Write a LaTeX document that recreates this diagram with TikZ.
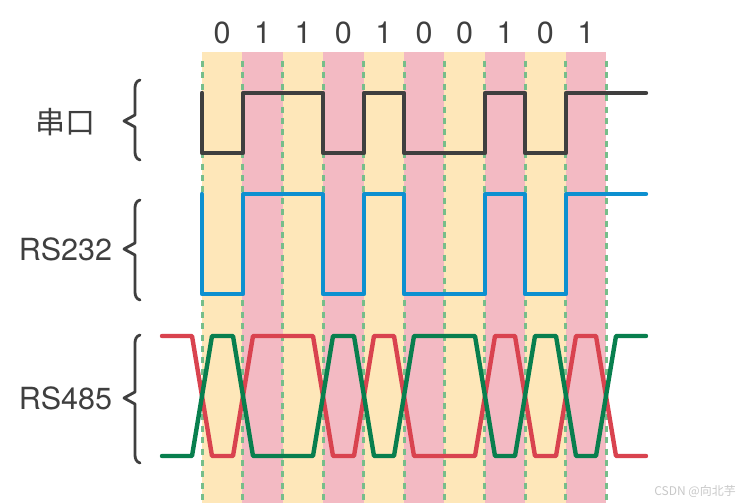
\documentclass[tikz,border=0pt]{standalone}
\usepackage{fontspec}
\setmainfont{TeX Gyre Heros}
\newfontfamily\cjk{Noto Sans CJK SC}
\definecolor{stripeY}{HTML}{FEE7B9}
\definecolor{stripeP}{HTML}{F3BAC3}
\definecolor{dashG}{HTML}{76BE8A}
\definecolor{txt}{HTML}{3F3F3F}
\definecolor{sig}{HTML}{3F3F3F}
\definecolor{sigB}{HTML}{0D90D0}
\definecolor{sigR}{HTML}{D9434F}
\definecolor{sigG}{HTML}{087F4E}
\definecolor{wm}{HTML}{C8C8C8}
\tikzset{
  bitlabel/.style={text=txt,font=\fontsize{30.5}{34}\selectfont,inner sep=0pt,anchor=center},
  rowlabel/.style={text=txt,font=\fontsize{30.5}{34}\selectfont,inner sep=0pt,anchor=center},
  gridline/.style={dashG,line width=3pt,dash pattern=on 6pt off 5.4pt},
  wave/.style={line width=4.4pt,line join=round,line cap=round},
  bracestyle/.style={sig,line width=2.8pt,line join=round,line cap=round}
}
\begin{document}
\begin{tikzpicture}[x=1pt,y=-1pt]
\useasboundingbox (0,0) rectangle (745,503);
% stripes
\foreach \i in {0,...,9}{
  \pgfmathsetmacro{\xa}{202+40.4*\i}
  \pgfmathsetmacro{\xb}{202+40.4*(\i+1)}
  \ifodd\i
    \fill[stripeP] (\xa,52) rectangle (\xb,503);
  \else
    \fill[stripeY] (\xa,52) rectangle (\xb,503);
  \fi
}
% dashed boundaries
\foreach \i in {0,...,10}{
  \pgfmathsetmacro{\xa}{202+40.4*\i}
  \coordinate (gt\i) at (\xa,61);
  \coordinate (gb\i) at (\xa,503);
  \draw[gridline] (gt\i) -- (gb\i);
}
% bit labels
\foreach \b [count=\i from 0] in {0,1,1,0,1,0,0,1,0,1}{
  \pgfmathsetmacro{\xc}{222.2+40.4*\i}
  \node[bitlabel] (bit\i) at (\xc,33) {\b};
}
% serial
\draw[wave,sig] (202,93) -- (202,153) -- (243,153) -- (243,93) -- (323,93) -- (323,153) -- (364,153) -- (364,93) -- (404,93) -- (404,153) -- (485,153) -- (485,93) -- (525,93) -- (525,153) -- (566,153) -- (566,93) -- (646,93);
% RS232
\draw[wave,sigB] (202,194) -- (202,294) -- (243,294) -- (243,194) -- (323,194) -- (323,294) -- (364,294) -- (364,194) -- (404,194) -- (404,294) -- (485,294) -- (485,194) -- (525,194) -- (525,294) -- (566,294) -- (566,194) -- (646,194);
% RS485 red
\draw[wave,sigR] (162,336) -- (192,336) -- (212,456) -- (233,456) -- (253,336) -- (313,336) -- (333,456) -- (354,456) -- (374,336) -- (394,336) -- (414,456) -- (475,456) -- (495,336) -- (515,336) -- (535,456) -- (556,456) -- (576,336) -- (596,336) -- (616,456) -- (646,456);
% RS485 green
\draw[wave,sigG] (162,456) -- (192,456) -- (212,336) -- (233,336) -- (253,456) -- (313,456) -- (333,336) -- (354,336) -- (374,456) -- (394,456) -- (414,336) -- (475,336) -- (495,456) -- (515,456) -- (535,336) -- (556,336) -- (576,456) -- (596,456) -- (616,336) -- (646,336);
% braces
\foreach \t/\m/\b in {80/121/160, 200/249/300, 335/398/463}{
  \draw[bracestyle] (140,\t) .. controls (136.5,\t+1) and (135,\t+4) .. (135,\t+8) -- (135,\m-6) -- (124,\m) -- (135,\m+6) -- (135,\b-8) .. controls (135,\b-4) and (136.5,\b-1) .. (140,\b);
}
% row labels
\node[rowlabel,font=\cjk\fontsize{30}{34}\selectfont] (l1) at (65.5,122) {串口};
\node[rowlabel] (l2) at (65.5,249) {RS232};
\node[rowlabel] (l3) at (65.5,398) {RS485};
% watermark
\node[text=wm,font=\cjk\fontsize{12}{14}\selectfont,inner sep=0pt,anchor=east] (wmk) at (736,491) {CSDN @向北芋};
\end{tikzpicture}
\end{document}
